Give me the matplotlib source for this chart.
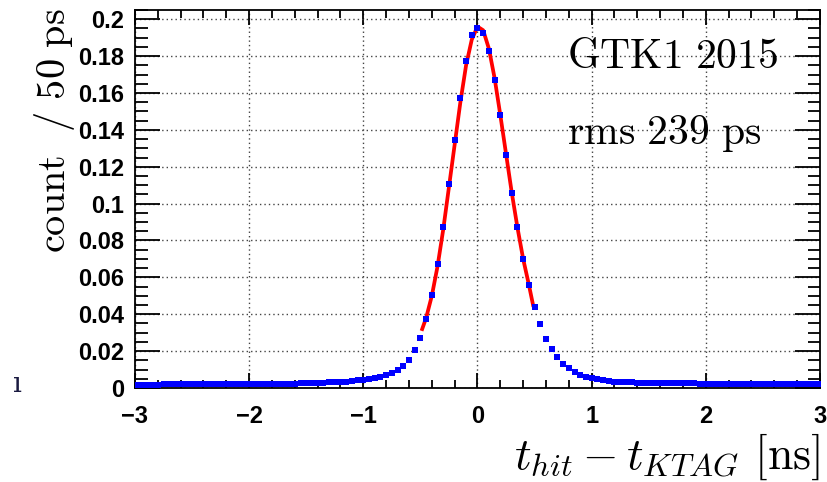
import numpy as np
import matplotlib
matplotlib.use("Agg")
import matplotlib.pyplot as plt
from matplotlib.ticker import MultipleLocator, FixedLocator

plt.rcParams['mathtext.fontset'] = 'cm'

# ---------------- data ----------------
bin_width = 0.05
x_first, x_last = -3.0, 3.0
counts = [
    # -3.00 .. -2.05
    0.0018, 0.0018, 0.0018, 0.0018, 0.0018, 0.0019, 0.0019, 0.0019, 0.0019, 0.0019,
    0.0019, 0.0019, 0.0020, 0.0020, 0.0020, 0.0020, 0.0020, 0.0020, 0.0021, 0.0021,
    # -2.00 .. -1.05
    0.0021, 0.0021, 0.0022, 0.0022, 0.0022, 0.0023, 0.0023, 0.0024, 0.0024, 0.0025,
    0.0026, 0.0027, 0.0028, 0.0029, 0.0030, 0.0031, 0.0033, 0.0035, 0.0038, 0.0041,
    # -1.00 .. -0.05
    0.0044, 0.0048, 0.0053, 0.0061, 0.0069, 0.0082, 0.0095, 0.0122, 0.0150, 0.0204,
    0.0273, 0.0374, 0.0504, 0.0670, 0.0873, 0.1106, 0.1344, 0.1575, 0.1772, 0.1914,
    # 0.00 .. 0.95
    0.1955, 0.1923, 0.1828, 0.1669, 0.1478, 0.1266, 0.1056, 0.0873, 0.0699, 0.0558,
    0.0439, 0.0345, 0.0268, 0.0211, 0.0168, 0.0131, 0.0106, 0.0086, 0.0072, 0.0059,
    # 1.00 .. 1.95
    0.0053, 0.0047, 0.0042, 0.0037, 0.0034, 0.0032, 0.0031, 0.0030, 0.0029, 0.0028,
    0.0027, 0.0027, 0.0026, 0.0026, 0.0026, 0.0025, 0.0025, 0.0025, 0.0025, 0.0024,
    # 2.00 .. 3.00
    0.0024, 0.0024, 0.0024, 0.0024, 0.0023, 0.0023, 0.0023, 0.0023, 0.0023, 0.0023,
    0.0022, 0.0022, 0.0022, 0.0022, 0.0022, 0.0022, 0.0022, 0.0021, 0.0021, 0.0021,
    0.0021,
]
bin_centers = np.round(np.linspace(x_first, x_last, len(counts)), 3)

fit_x = [-0.49, -0.45, -0.40, -0.35, -0.30, -0.25, -0.20, -0.15, -0.10, -0.05, 0.00,
         0.05, 0.10, 0.15, 0.20, 0.25, 0.30, 0.35, 0.40, 0.45, 0.49]
fit_y = [0.031, 0.038, 0.050, 0.066, 0.086, 0.109, 0.132, 0.155, 0.175, 0.189, 0.196,
         0.194, 0.184, 0.168, 0.148, 0.127, 0.106, 0.087, 0.070, 0.056, 0.044]

xticks = [-3, -2, -1, 0, 1, 2, 3]
xtick_labels = ['\u22123', '\u22122', '\u22121', '0', '1', '2', '3']
yticks = [0, 0.02, 0.04, 0.06, 0.08, 0.1, 0.12, 0.14, 0.16, 0.18, 0.2]
ytick_labels = ['0', '0.02', '0.04', '0.06', '0.08', '0.1', '0.12', '0.14', '0.16', '0.18', '0.2']

title_text = r'$\mathrm{GTK1\ 2015}$'
rms_text = r'$\mathrm{rms\ 239\ ps}$'
ylabel_text = r'$\mathrm{count\ \ /\ 50\ ps}$'
xlabel_text = r'$t_{hit} - t_{KTAG}\ [\mathrm{ns}]$'

# ---------------- figure ----------------
W, H = 828, 482
fig = plt.figure(figsize=(W / 100, H / 100), dpi=100)
ax = fig.add_axes([135 / W, 1 - 388 / H, (820 - 135) / W, (388 - 10) / H])

ax.set_xlim(-3, 3)
ax.set_ylim(0, 0.205)

ax.grid(True, which='major', linestyle=(0, (1, 2.2)), color='#444444', linewidth=1.0)
ax.set_axisbelow(True)

ax.plot(fit_x, fit_y, color='#ff0000', linewidth=2.7, zorder=3, solid_capstyle='butt')
ax.errorbar(bin_centers, counts, xerr=bin_width / 2, fmt='s', color='#0000ff',
            markersize=4.2, elinewidth=2.6, capsize=0, markeredgewidth=0, zorder=4,
            clip_on=True)

ax.xaxis.set_major_locator(FixedLocator(xticks))
ax.set_xticklabels(xtick_labels)
ax.xaxis.set_minor_locator(MultipleLocator(0.2))
ax.yaxis.set_major_locator(FixedLocator(yticks))
ax.set_yticklabels(ytick_labels)
ax.yaxis.set_minor_locator(MultipleLocator(0.005))

for lab in ax.get_xticklabels() + ax.get_yticklabels():
    lab.set_family('Liberation Sans')
    lab.set_fontweight('bold')
    lab.set_fontsize(17)

ax.tick_params(axis='both', which='both', direction='in', top=True, right=True,
               color='black', width=1.3)
ax.tick_params(axis='y', which='major', length=18, pad=8)
ax.tick_params(axis='y', which='minor', length=9)
ax.tick_params(axis='x', which='major', length=11, pad=12)
ax.tick_params(axis='x', which='minor', length=6)
for sp in ax.spines.values():
    sp.set_linewidth(1.3)

fig.text(567 / W, 1 - 68 / H, title_text, fontsize=30, ha='left', va='baseline')
fig.text(567 / W, 1 - 144 / H, rms_text, fontsize=30, ha='left', va='baseline')
fig.text(55 / W, 1 - 8 / H, ylabel_text, fontsize=29, rotation=90, ha='center', va='top')
fig.text(820 / W, 1 - 469 / H, xlabel_text, fontsize=33, ha='right', va='baseline')
fig.text(13 / W, 1 - 392 / H, '\u0131', fontsize=20, family='DejaVu Serif',
         color='#1a1a40', ha='left', va='baseline')

fig.savefig('out.png', dpi=100)
